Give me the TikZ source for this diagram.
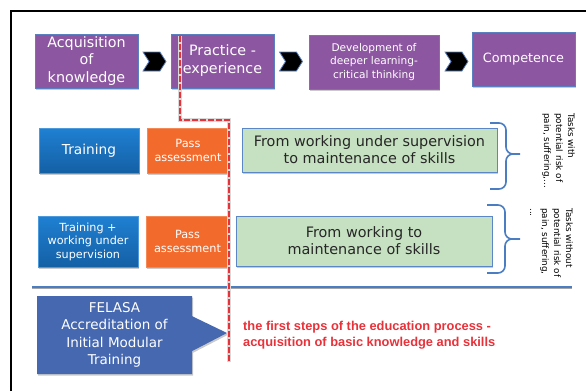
\documentclass[tikz,border=0pt]{standalone}
\usepackage{fontspec}
\setmainfont{DejaVu Sans}
\newfontfamily\arialfont{Liberation Sans}
\usetikzlibrary{shapes.symbols,shapes.callouts,shadows}

\definecolor{stagepurple}{HTML}{8D56A1}
\definecolor{stageedge}{HTML}{5A80C0}
\definecolor{traintop}{HTML}{1F80D2}
\definecolor{trainbot}{HTML}{1460A5}
\definecolor{passorange}{HTML}{F26B2C}
\definecolor{skillgreen}{HTML}{C6E1C1}
\definecolor{skilledge}{HTML}{5B87C7}
\definecolor{felasablue}{HTML}{4568B1}
\definecolor{linkblue}{HTML}{4A7DC1}
\definecolor{stepred}{HTML}{E8323A}

\begin{document}
\begin{tikzpicture}[x=1pt,y=-1pt,
  boxshadow/.style={drop shadow={shadow xshift=1.2pt,shadow yshift=-1.6pt,opacity=.35,fill=black!60}},
  stage/.style={fill=stagepurple,draw=stageedge,line width=.8pt,text=white,align=center,inner sep=1pt,boxshadow},
  chevron/.style={shape=signal,signal from=west,signal to=east,signal pointer angle=115,fill=black,draw=stageedge,line width=.8pt,minimum width=23pt,minimum height=19pt,inner sep=0pt},
  training/.style={top color=traintop,bottom color=trainbot,draw=traintop!80!white,line width=.8pt,text=white,align=center,inner sep=1pt,minimum width=100pt,boxshadow},
  pass/.style={fill=passorange,draw=passorange!80!white,line width=.8pt,text=white,align=center,inner sep=1pt,minimum width=82pt,font=\fontsize{11.3}{14}\selectfont,boxshadow},
  skills/.style={fill=skillgreen,draw=skilledge,line width=1pt,text=black!85,align=center,minimum width=255pt,font=\fontsize{14.4}{17}\selectfont,boxshadow},
  bracket/.style={draw=linkblue,line width=1.6pt,rounded corners=7pt},
  sidenote/.style={rotate=-90,align=left,inner sep=0pt,font=\fontsize{8.8}{12}\selectfont},
  reddash/.style={draw=stepred,line width=2.4pt,dash pattern=on 5.5pt off 2.5pt}]
\useasboundingbox (0,0) rectangle (586,391);
\draw[line width=2pt] (11,391) -- (11,11) -- (586,11);

% stages
\node[stage,minimum width=103pt,minimum height=54pt,font=\fontsize{14.3}{17.5}\selectfont] (acq) at (86.5,61) {Acquisition\\of\\knowledge};
\node[chevron] (ch1) at (154.5,61.5) {};
\node[stage,minimum width=103pt,minimum height=54pt,font=\fontsize{14.3}{18}\selectfont] (prac) at (222.5,61) {Practice -\\experience};
\node[chevron] (ch2) at (291,61.5) {};
\node[stage,minimum width=130pt,minimum height=54pt,font=\fontsize{10.6}{13.5}\selectfont] (dev) at (374,62) {Development of\\deeper learning-\\critical thinking};
\node[chevron] (ch3) at (456.5,61.5) {};
\node[stage,minimum width=103pt,minimum height=54pt,font=\fontsize{12.8}{16}\selectfont] (comp) at (523.5,59) {Competence};

% rows
\node[training,minimum height=45pt,font=\fontsize{13.7}{17}\selectfont] (train) at (89,150.5) {Training};
\node[pass,minimum height=45pt] (pass1) at (188,150.5) {Pass\\assessment};
\node[skills,minimum height=44pt] (task1) at (369.5,150) {From working under supervision\\to maintenance of skills};
\node[training,minimum height=51pt,font=\fontsize{11.2}{13.5}\selectfont] (trainsup) at (88,241.5) {Training +\\working under\\supervision};
\node[pass,minimum width=83pt,minimum height=51pt] (pass2) at (187.5,241.5) {Pass\\assessment};
\node[skills,minimum width=256pt,minimum height=50pt] (task2) at (364,241) {From working to\\maintenance of skills};

\draw[bracket] (490,123) -- (506,123) -- (506,154) -- (520,154) (490,189) -- (506,189) -- (506,154) -- (520,154);
\draw[bracket] (487,205) -- (505,205) -- (505,239) -- (520,239) (487,273) -- (505,273) -- (505,239) -- (520,239);
\node[sidenote,anchor=north west] (risk) at (575,113) {Tasks with\\potential risk of\\pain, suffering,...};
\node[sidenote,anchor=north west] (norisk) at (573,208) {Tasks without\\potential risk of\\pain, suffering,\\...};

% separator
\coordinate (sepL) at (32,287);
\coordinate (sepR) at (572,287);
\draw[black!35,line width=1pt] ([yshift=-1.8pt]sepL) -- ([yshift=-1.8pt]sepR);
\draw[linkblue,line width=2.2pt] (sepL) -- (sepR);

\node[rectangle callout,fill=felasablue,text=white,align=center,minimum width=155pt,minimum height=78pt,
  callout absolute pointer={(227,333)},callout pointer width=35pt,font=\fontsize{13.5}{17.3}\selectfont,boxshadow]
  (felasa) at (114.5,335) {FELASA\\Accreditation of\\Initial Modular\\Training};
\node[anchor=west,align=left,inner sep=0pt,text=stepred,font=\arialfont\bfseries\fontsize{12.85}{15.5}\selectfont]
  (steps) at (243,335) {the first steps of the education process -\\acquisition of basic knowledge and skills};

% boundary of the first steps
\coordinate (r0) at (180,36);
\coordinate (r1) at (229,120);
\coordinate (r2) at (229,362);
\draw[black!15,line width=3.6pt] (r0) |- (r1) -- (r2);
\draw[reddash] (r0) |- (r1) -- (r2);
\end{tikzpicture}
\end{document}
